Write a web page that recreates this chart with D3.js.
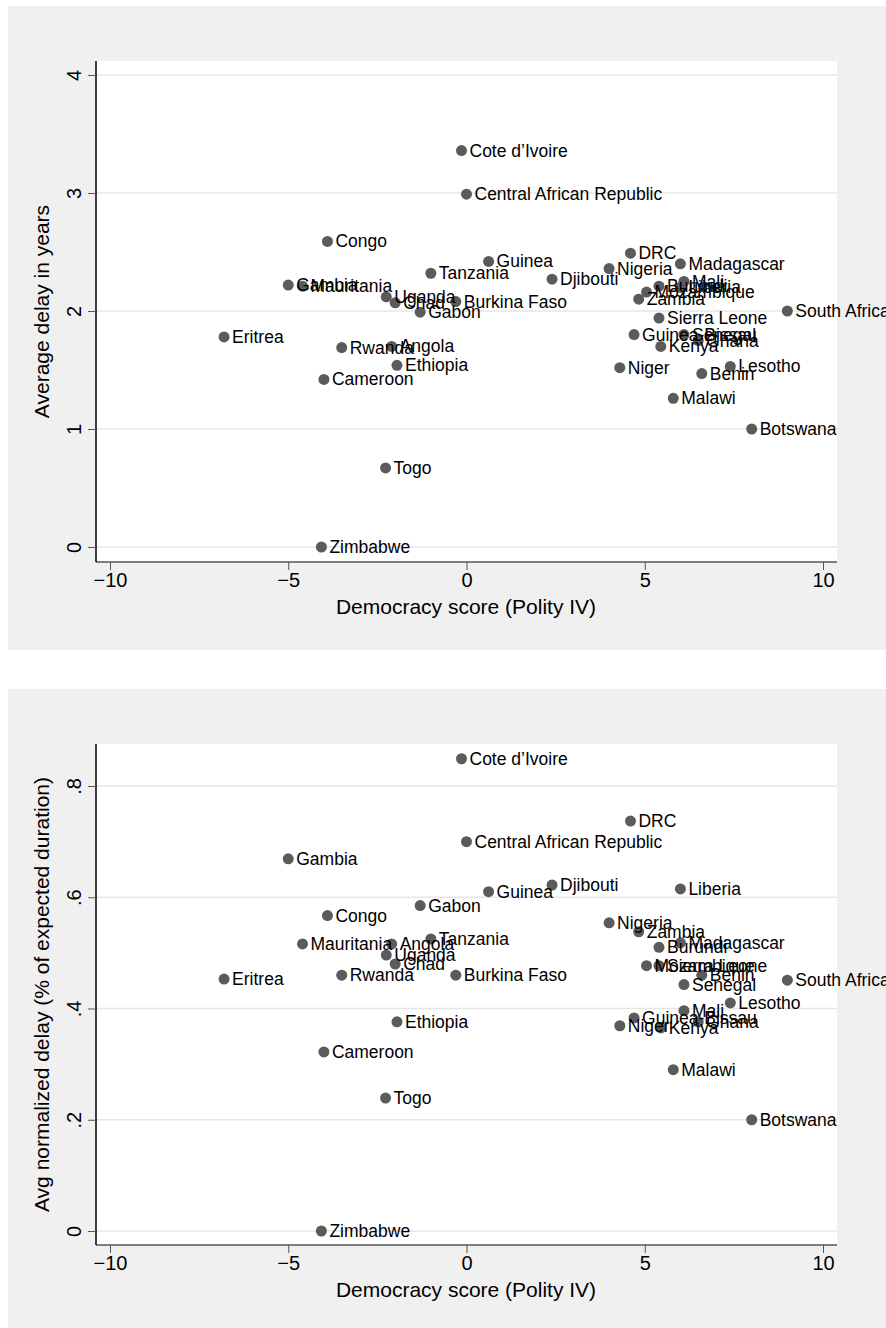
<!DOCTYPE html>
<html><head><meta charset="utf-8">
<script src="https://cdn.jsdelivr.net/npm/d3@7"></script>
<style>body{margin:0;background:#fff;overflow:hidden}svg{display:block}text{font-family:"Liberation Sans",Arial,sans-serif}</style>
</head><body>
<script>
const countries = ["Cote d\u2019Ivoire","Central African Republic","Congo","Guinea","Tanzania","Djibouti","DRC","Nigeria","Madagascar","Gambia","Mauritania","Uganda","Chad","Burkina Faso","Gabon","Angola","Rwanda","Ethiopia","Cameroon","Eritrea","Togo","Zimbabwe","South Africa","Botswana","Malawi","Lesotho","Benin","Niger","Kenya","Guinea-Bissau","Sierra Leone","Senegal","Ghana","Mali","Liberia","Burundi","Mozambique","Zambia"];
const democracy = [-0.14,0,-3.9,0.62,-1.0,2.4,4.6,4.0,6.0,-5.0,-4.6,-2.25,-2.0,-0.3,-1.3,-2.1,-3.5,-1.95,-4.0,-6.8,-2.27,-4.07,9.0,8.0,5.8,7.4,6.6,4.3,5.45,4.7,5.4,6.1,6.5,6.1,6.0,5.4,5.05,4.83];
const avgDelay = [3.36,2.99,2.59,2.42,2.32,2.27,2.49,2.36,2.40,2.22,2.21,2.12,2.07,2.08,1.99,1.70,1.69,1.54,1.42,1.78,0.67,0,2.0,1.0,1.26,1.53,1.47,1.52,1.70,1.80,1.94,1.80,1.75,2.25,2.2,2.21,2.16,2.10];
const normDelay = [0.849,0.70,0.567,0.61,0.525,0.622,0.737,0.554,0.518,0.669,0.516,0.496,0.48,0.46,0.585,0.516,0.46,0.376,0.322,0.453,0.239,0,0.451,0.20,0.29,0.41,0.46,0.369,0.365,0.383,0.477,0.443,0.376,0.396,0.615,0.51,0.477,0.538];
const xTicks = [-10,-5,0,5,10];
const yTicksTop = [0,1,2,3,4];
const yTicksBottom = [0,0.2,0.4,0.6,0.8];
const fmtBottom = d => d===0 ? "0" : String(d).replace(/^0/,"");

const svg = d3.select("body").append("svg").attr("width",886).attr("height",1328);

function panel(top, yVals, yDomain, yRange, yTicks, yFmt, yTitle){
  const g = svg.append("g");
  g.append("rect").attr("x",8).attr("y",top).attr("width",878).attr("height",644).attr("fill","#f0f0f0");
  const px0 = 96, px1 = 837, py0 = top+55, py1 = top+556;
  g.append("rect").attr("x",px0).attr("y",py0).attr("width",px1-px0).attr("height",py1-py0).attr("fill","#fff");
  const x = d3.scaleLinear().domain([-10,10]).range([110,823]);
  const y = d3.scaleLinear().domain(yDomain).range(yRange);
  g.selectAll(".grid").data(yTicks).join("line")
    .attr("x1",px0).attr("x2",px1).attr("y1",d=>y(d)).attr("y2",d=>y(d))
    .attr("stroke","#e6e6e6").attr("stroke-width",1.5);
  const xa = g.append("g").attr("transform",`translate(0,${py1})`)
    .call(d3.axisBottom(x).tickValues(xTicks).tickSize(8).tickPadding(3).tickFormat(d=>d<0?"\u2212"+(-d):d));
  xa.select(".domain").attr("d",`M${px0},0H${px1}`).attr("stroke","#555").attr("stroke-width",1.5);
  xa.selectAll(".tick line").attr("stroke","#555");
  xa.selectAll("text").attr("font-size",20).attr("fill","#000");
  const ya = g.append("g").attr("transform",`translate(${px0},0)`)
    .call(d3.axisLeft(y).tickValues(yTicks).tickSize(8).tickFormat(yFmt));
  ya.select(".domain").attr("d",`M0,${py0}V${py1}`).attr("stroke","#000").attr("stroke-width",1.5);
  ya.selectAll(".tick line").attr("stroke","#555");
  ya.selectAll(".tick text").attr("font-size",20).attr("fill","#000")
    .attr("text-anchor","middle").attr("dy",0).attr("x",0)
    .attr("transform","translate(-22,0) rotate(-90)").attr("y",7);
  g.append("text").attr("x",466).attr("y",top+608).attr("text-anchor","middle").attr("font-size",21).text("Democracy score (Polity IV)");
  g.append("text").attr("transform",`translate(49,${(py0+py1)/2}) rotate(-90)`).attr("text-anchor","middle").attr("font-size",21).text(yTitle);
  g.selectAll(".pt").data(countries).join("circle")
    .attr("cx",(d,i)=>x(democracy[i])).attr("cy",(d,i)=>y(yVals[i])).attr("r",5.5).attr("fill","#5b5b5b");
  g.selectAll(".lab").data(countries).join("text")
    .attr("x",(d,i)=>x(democracy[i])+8).attr("y",(d,i)=>y(yVals[i])+6)
    .attr("font-size",17.5).attr("fill","#000").text(d=>d);
}
panel(6, avgDelay, [0,4], [547,75], yTicksTop, d=>d, "Average delay in years");
panel(689, normDelay, [0,0.8], [1231,786], yTicksBottom, fmtBottom, "Avg normalized delay (% of expected duration)");
</script>
</body></html>
